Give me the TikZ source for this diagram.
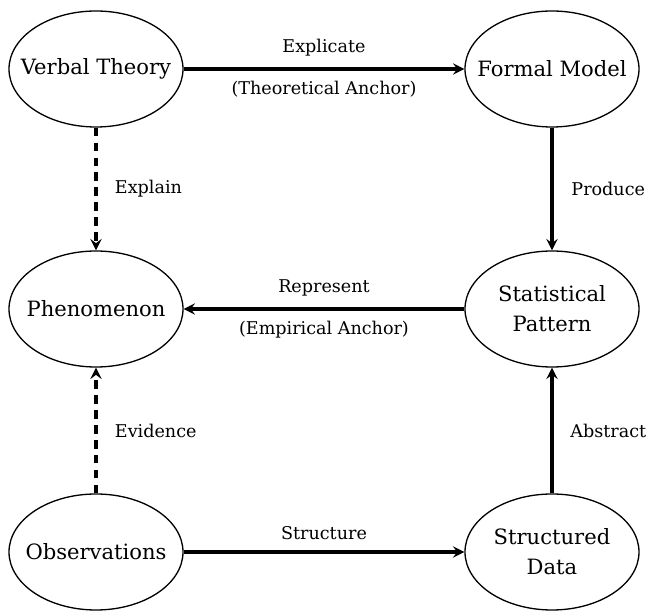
\documentclass[tikz,border=0pt]{standalone}
\usepackage{fontspec}
\setmainfont{DejaVu Serif}
\usetikzlibrary{positioning, shapes.geometric}

\begin{document}
\begin{tikzpicture}[>=stealth, on grid, node distance=4.8cm,
    box/.style={ellipse, draw, line width=0.75pt, minimum width=3.48cm, minimum height=2.32cm, inner xsep=-0.3cm, inner ysep=0pt, align=center, font=\fontsize{12}{17}\selectfont},
    link/.style={->, line width=1.8pt},
    hint/.style={font=\fontsize{10}{12}\selectfont}]
    \useasboundingbox (-1.92,1.38) rectangle (11.0,-10.84);

    \node (verbal) [box] {Verbal Theory};
    \node (formal) [box, right=9.12cm of verbal] {Formal Model};
    \node (phen) [box, below=of verbal] {Phenomenon};
    \node (pattern) [box, below=of formal] {Statistical\\Pattern};
    \node (obs) [box, below=4.86cm of phen] {Observations};
    \node (data) [box, below=4.86cm of pattern] {Structured\\Data};

    \draw[link] (verbal) -- node[hint, above=0.1cm]{Explicate} node[hint, below=0.1cm]{(Theoretical Anchor)} (formal);
    \draw[link] (formal) -- node[hint, right=0.24cm]{Produce} (pattern);
    \draw[link] (pattern) -- node[hint, above=0.1cm]{Represent} node[hint, below=0.1cm]{(Empirical Anchor)} (phen);
    \draw[link] (data) -- node[hint, right=0.22cm]{Abstract} (pattern);
    \draw[link] (obs) -- node[hint, above=0.1cm]{Structure} (data);
    \draw[link, dash pattern=on 5pt off 3.5pt] (verbal) -- node[hint, right=0.23cm]{Explain} (phen);
    \draw[link, dash pattern=on 5pt off 3.5pt] (obs) -- node[hint, right=0.23cm]{Evidence} (phen);
\end{tikzpicture}
\end{document}
